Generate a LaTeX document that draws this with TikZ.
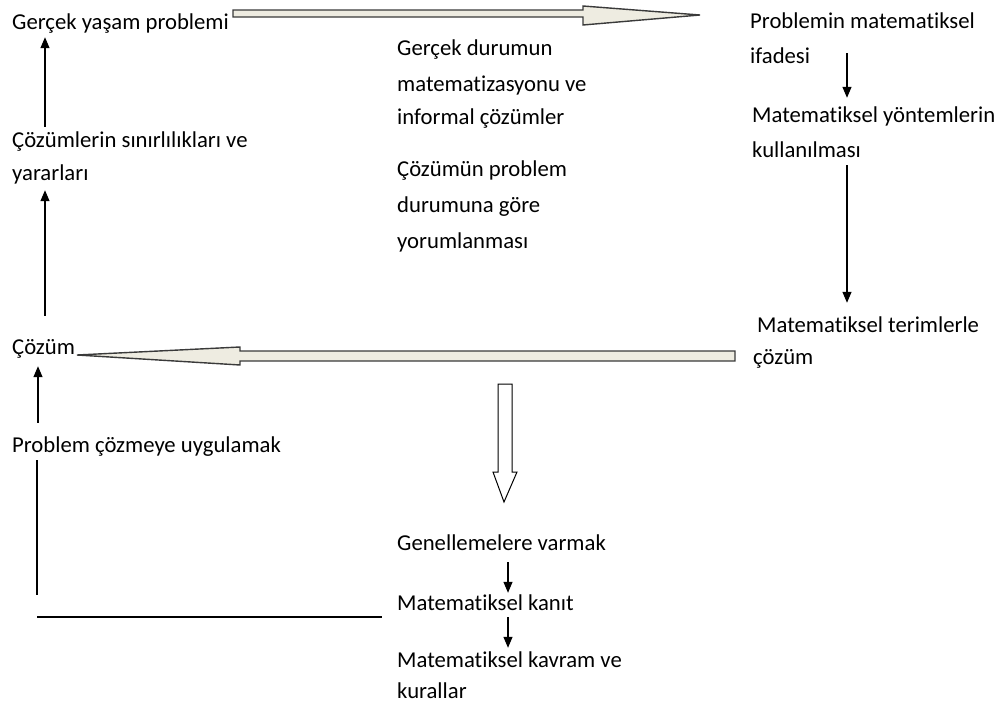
\documentclass[tikz,border=0pt]{standalone}
\usepackage{fontspec}
\setmainfont{Carlito}[Ligatures=NoCommon]
\usetikzlibrary{arrows.meta,calc}
\definecolor{fatfill}{HTML}{EEECE1}
\definecolor{fatdraw}{HTML}{3A3A3A}
\tikzset{
  txt/.style={anchor=base west, inner sep=0pt, text height=16pt, text depth=5pt,
              font=\fontsize{22.7}{35}\selectfont},
  arr/.style={line width=1.2pt, -{Triangle[length=11pt,width=9pt]}},
  plain/.style={line width=1.2pt},
  fat/.style={draw=fatdraw, fill=fatfill, line width=1.4pt, line join=miter},
  hollow/.style={draw=black, fill=white, line width=1pt, line join=miter}
}
\begin{document}
\begin{tikzpicture}[x=1pt,y=-1pt]
\useasboundingbox (0,0) rectangle (1002,704);

% left column
\node[txt] (g1) at (12,29)  {Gerçek yaşam problemi};
\node[txt] (s1) at (12,147) {Çözümlerin sınırlılıkları ve};
\node[txt] (s2) at (12,180) {yararları};
\node[txt] (c1) at (12,354) {Çözüm};
\node[txt] (u1) at (12,452) {Problem çözmeye uygulamak};

% middle column
\node[txt] (m1) at (397,55)  {Gerçek durumun};
\node[txt] (m2) at (397,91)  {matematizasyonu ve};
\node[txt] (m3) at (397,124) {informal çözümler};
\node[txt] (y1) at (397,176) {Çözümün problem};
\node[txt] (y2) at (397,212) {durumuna göre};
\node[txt] (y3) at (397,248) {yorumlanması};

% right column
\node[txt] (p1) at (750,28)  {Problemin matematiksel};
\node[txt] (p2) at (750,63)  {ifadesi};
\node[txt] (k1) at (752,122) {Matematiksel yöntemlerin};
\node[txt] (k2) at (752,157) {kullanılması};
\node[txt] (t1) at (757,332) {Matematiksel terimlerle};
\node[txt] (t2) at (753,364) {çözüm};

% bottom column
\node[txt] (n1) at (397,550) {Genellemelere varmak};
\node[txt] (n2) at (397,610) {Matematiksel kanıt};
\node[txt] (n3) at (397,667) {Matematiksel kavram ve};
\node[txt] (n4) at (397,698) {kurallar};

% guide abscissae for the vertical connectors
\coordinate (lx) at (45,0);
\coordinate (lx2) at (38,0);
\coordinate (rx) at (847,0);
\coordinate (bx) at (508,0);
\coordinate (lb1) at (37,595);
\coordinate (lb2) at (37,617);

% left side arrows
\draw[arr, shorten <=4pt, shorten >=3pt] (s1.north -| lx) -- (g1.south -| lx);
\draw[arr, shorten <=22pt, shorten >=5pt] (c1.north -| lx) -- (s2.south -| lx);
\draw[arr, shorten <=13pt, shorten >=7pt] (u1.north -| lx2) -- (c1.south -| lx2);
\draw[plain, shorten <=3pt] (u1.south -| lb1) -- (lb1);
\draw[plain, shorten >=15pt] (lb2) -- (n2.west |- lb2);

% right side arrows
\draw[arr, shorten <=20pt, shorten >=8pt] (p1.south -| rx) -- (k1.north -| rx);
\draw[arr, shorten <=3pt, shorten >=13pt] (k2.south -| rx) -- (t1.north -| rx);

% bottom arrows
\draw[arr, shorten <=7pt, shorten >=1pt] (n1.south -| bx) -- (n2.north -| bx);
\draw[arr, shorten <=2pt, shorten >=3pt] (n2.south -| bx) -- (n3.north -| bx);

% broad block arrows
\draw[fat] (233,10) -- (583,10) -- (583,6) -- (700,15) -- (583,25) -- (583,17) -- (233,17) -- cycle;
\draw[fat] (735,351) -- (240,351) -- (240,347) -- (77,355) -- (240,365) -- (240,361) -- (735,361) -- cycle;
\draw[hollow] (498,384) -- (512,384) -- (512,472) -- (517,472) -- (504,502) -- (493,472) -- (498,472) -- cycle;
\end{tikzpicture}
\end{document}
